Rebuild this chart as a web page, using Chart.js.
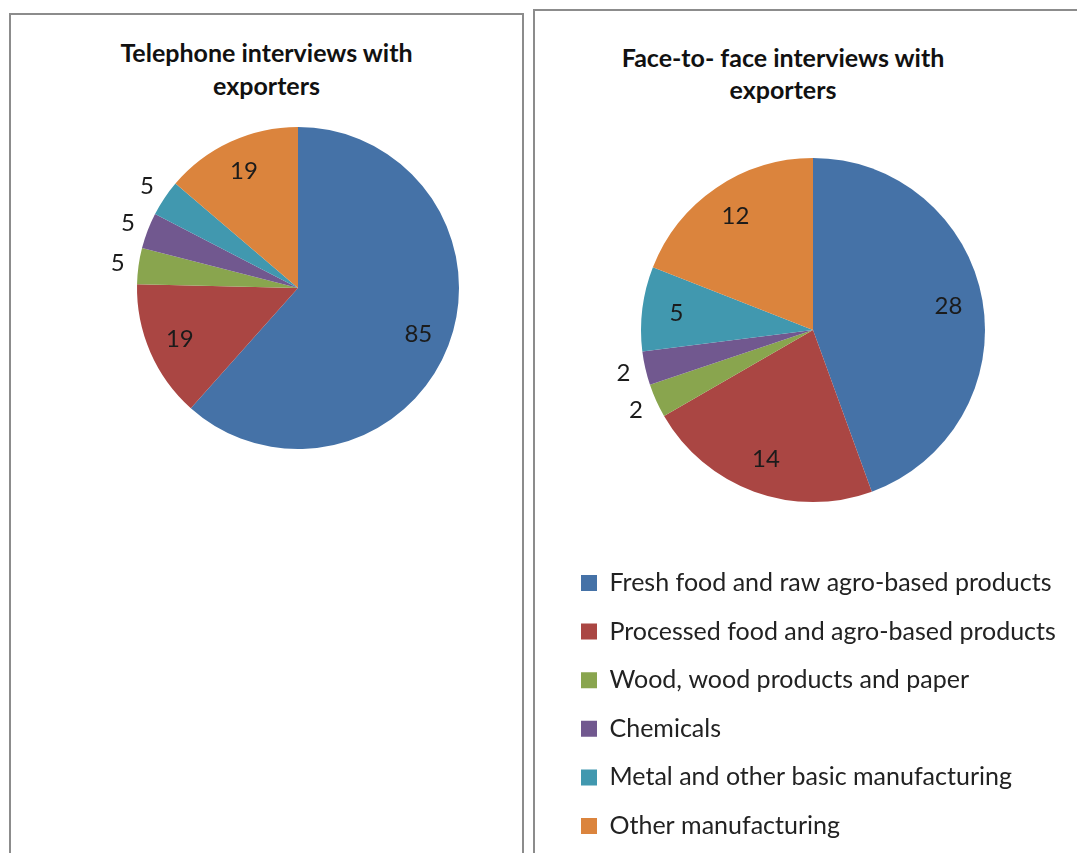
<!DOCTYPE html>
<html lang="en">
<head>
    <meta charset="UTF-8" />
    <title>Interviews with exporters</title>
    <!-- Chart.js (CDN) -->
    <script src="https://cdn.jsdelivr.net/npm/chart.js"></script>
    <style>
        body { margin: 0; background: #fff; width: 1077px; height: 853px; overflow: hidden; position: relative; font-family: Lato, sans-serif; }
        .panel { position: absolute; border: 2px solid #8c8c8c; background: #fff; }
        #panelTel { left: 9px; top: 13px; width: 511px; height: 860px; }
        #panelF2F { left: 533px; top: 9px; width: 580px; height: 860px; }
        .titulo { position: absolute; text-align: center; font-weight: bold; font-size: 25px; line-height: 33px; color: #111; }
        #tituloTel { left: 11px; top: 36px; width: 511px; }
        #tituloF2F { left: 535px; top: 41px; width: 496px; line-height: 32px; }
        canvas { position: absolute; }
        #chartTel { left: 11px; top: 15px; }
        #chartF2F { left: 535px; top: 11px; }
    </style>
</head>
<body>
<div class="panel" id="panelTel"></div>
<div class="panel" id="panelF2F"></div>

<div class="titulo" id="tituloTel">Telephone interviews with<br>exporters</div>
<div class="titulo" id="tituloF2F">Face-to- face interviews with<br>exporters</div>

<canvas id="chartTel" width="511" height="838"></canvas>
<canvas id="chartF2F" width="542" height="842"></canvas>

<script>
    // Datos
    const categorias = [
        'Fresh food and raw agro-based products',
        'Processed food and agro-based products',
        'Wood, wood products and paper',
        'Chemicals',
        'Metal and other basic manufacturing',
        'Other manufacturing'
    ];
    const entrevistasTelefono = [85, 19, 5, 5, 5, 19];
    const entrevistasPresencial = [28, 14, 2, 2, 5, 12];
    const colores = ['#4572A7', '#AA4643', '#89A54E', '#71588F', '#4198AF', '#DB843D'];

    Chart.defaults.font.family = 'Lato, sans-serif';
    Chart.defaults.color = '#1b1b1b';

    // Etiquetas de valores: dentro del sector, o fuera si es muy pequeño
    const etiquetasPlugin = {
        id: 'etiquetas',
        afterDatasetsDraw(chart) {
            const ctx = chart.ctx;
            const meta = chart.getDatasetMeta(0);
            const valores = chart.data.datasets[0].data;
            const total = valores.reduce((a, b) => a + b, 0);
            ctx.save();
            ctx.font = '24px Lato, sans-serif';
            ctx.fillStyle = '#1b1b1b';
            ctx.textAlign = 'center';
            ctx.textBaseline = 'middle';
            meta.data.forEach((arco, i) => {
                const { x, y, startAngle, endAngle, outerRadius } =
                    arco.getProps(['x', 'y', 'startAngle', 'endAngle', 'outerRadius'], true);
                const medio = (startAngle + endAngle) / 2;
                const dist = valores[i] / total < 0.05 ? outerRadius * 1.13 : outerRadius * 0.8;
                ctx.fillText(String(valores[i]), x + Math.cos(medio) * dist, y + Math.sin(medio) * dist);
            });
            ctx.restore();
        }
    };

    // Telephone interviews (sin leyenda)
    new Chart(document.getElementById('chartTel'), {
        type: 'pie',
        data: {
            labels: categorias,
            datasets: [{ data: entrevistasTelefono, backgroundColor: colores, borderWidth: 0, radius: 161 }]
        },
        options: {
            responsive: false,
            animation: false,
            layout: { padding: { left: 63, right: 0, top: 20, bottom: 312 } },
            plugins: { legend: { display: false }, tooltip: { enabled: false } }
        },
        plugins: [etiquetasPlugin]
    });

    // Face-to-face interviews (con leyenda abajo)
    new Chart(document.getElementById('chartF2F'), {
        type: 'pie',
        data: {
            labels: categorias,
            datasets: [{ data: entrevistasPresencial, backgroundColor: colores, borderWidth: 0, radius: 172 }]
        },
        options: {
            responsive: false,
            animation: false,
            layout: { padding: { left: 22.4, right: 8.4, top: 102.1, bottom: 4.5 } },
            plugins: {
                tooltip: { enabled: false },
                legend: {
                    position: 'bottom',
                    align: 'start',
                    labels: {
                        boxWidth: 16,
                        boxHeight: 16,
                        padding: 23.6,
                        color: '#222',
                        font: { size: 25 }
                    }
                }
            }
        },
        plugins: [etiquetasPlugin]
    });
</script>
</body>
</html>
